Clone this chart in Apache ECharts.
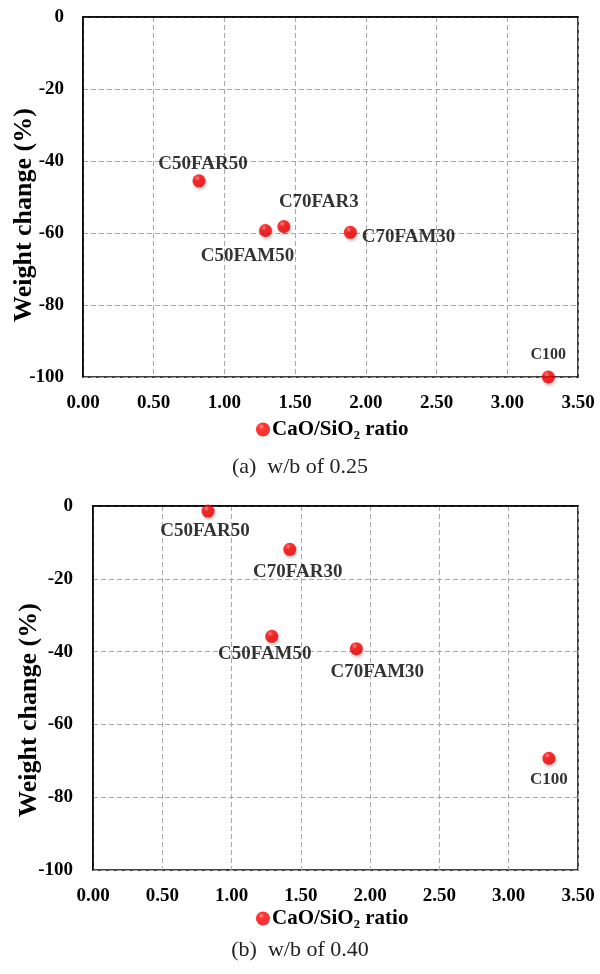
<!DOCTYPE html>
<html>
<head>
<meta charset="utf-8">
<script src="https://cdn.jsdelivr.net/npm/echarts@6/dist/echarts.min.js"></script>
<style>
html,body{margin:0;padding:0;background:#fff;}
#chart{width:600px;height:974px;}
</style>
</head>
<body>
<div id="chart"></div>
<script>
// ---- data ----
const namesA = ['C50FAR50', 'C50FAM50', 'C70FAR3', 'C70FAM30', 'C100'];
const ratioA = [0.82, 1.29, 1.42, 1.89, 3.29];
const weightA = [-45.5, -59.3, -58.2, -59.8, -100];

const namesB = ['C50FAR50', 'C70FAR30', 'C50FAM50', 'C70FAM30', 'C100'];
const ratioB = [0.83, 1.42, 1.29, 1.90, 3.29];
const weightB = [-1.4, -11.9, -35.8, -39.2, -69.3];

const xTicks = ['0.00', '0.50', '1.00', '1.50', '2.00', '2.50', '3.00', '3.50'];
const yTicks = ['-100', '-80', '-60', '-40', '-20', '0'];
const legendName = 'CaO/SiO\u2082 ratio';
const yName = 'Weight change (%)';
const captions = ['(a)  w/b of 0.25', '(b)  w/b of 0.40'];

// ---- styles ----
const FONT = '"Liberation Serif", "Times New Roman", serif';
const labelA = {
  'C50FAR50': {position: 'top', distance: 1, offset: [4, 0], fontSize: 19},
  'C50FAM50': {position: 'bottom', distance: 4, offset: [-18, 6], fontSize: 19},
  'C70FAR3':  {position: 'top', distance: 4, offset: [35, -4], fontSize: 19},
  'C70FAM30': {position: 'right', distance: 5, offset: [0, 5], fontSize: 19},
  'C100':     {position: 'top', distance: 4, offset: [0, -4], fontSize: 16}
};
const labelB = {
  'C50FAR50': {position: 'bottom', distance: 4, offset: [-3, 0], fontSize: 19},
  'C70FAR30': {position: 'bottom', distance: 4, offset: [8, 3], fontSize: 19},
  'C50FAM50': {position: 'bottom', distance: 4, offset: [-7, -2], fontSize: 19},
  'C70FAM30': {position: 'bottom', distance: 4, offset: [21, 3], fontSize: 19},
  'C100':     {position: 'bottom', distance: 4, offset: [0, 2], fontSize: 17}
};

const ballColor = {
  type: 'radial', x: 0.38, y: 0.3, r: 0.75,
  colorStops: [
    {offset: 0, color: '#ff7070'},
    {offset: 0.3, color: '#ff0000'},
    {offset: 0.85, color: '#f00000'},
    {offset: 1, color: '#c00000'}
  ]
};

function buildData(names, xs, ys, lab) {
  return names.map((n, i) => ({
    name: n,
    value: [xs[i], ys[i]],
    label: Object.assign({show: true, formatter: n, color: '#000', fontWeight: 'bold', fontFamily: FONT}, lab[n])
  }));
}

function xAxis(gi) {
  return {
    gridIndex: gi, type: 'value', min: 0, max: 3.5, interval: 0.5,
    axisLine: {show: true, lineStyle: {color: '#000', width: 1.5}},
    axisTick: {show: false},
    axisLabel: {
      margin: 17, color: '#000', fontWeight: 'bold', fontSize: 19, fontFamily: FONT,
      formatter: v => xTicks[Math.round(v / 0.5)]
    },
    splitLine: {show: true, lineStyle: {color: '#a8a8a8', type: [5, 3], width: 1}}
  };
}
function yAxis(gi, gap, margin, pad) {
  return {
    gridIndex: gi, type: 'value', min: -100, max: 0, interval: 20,
    name: yName, nameLocation: 'middle', nameGap: gap, nameRotate: 90, nameMoveOverlap: false,
    nameTextStyle: {color: '#000', fontWeight: 'bold', fontSize: 26, fontFamily: FONT, padding: [0, pad, 0, 0]},
    axisLine: {show: true, lineStyle: {color: '#000', width: 1.5}},
    axisTick: {show: false},
    axisLabel: {
      margin: margin, color: '#000', fontWeight: 'bold', fontSize: 19, fontFamily: FONT,
      formatter: v => yTicks[Math.round((v + 100) / 20)]
    },
    splitLine: {show: true, lineStyle: {color: '#a8a8a8', type: [5, 3], width: 1}}
  };
}

function series(gi, names, xs, ys, lab) {
  return {
    name: legendName, type: 'scatter', xAxisIndex: gi, yAxisIndex: gi,
    symbol: 'circle', symbolSize: 13, clip: false,
    itemStyle: {color: ballColor, shadowBlur: 3, shadowColor: 'rgba(0,0,0,0.35)', shadowOffsetX: 1, shadowOffsetY: 2},
    data: buildData(names, xs, ys, lab)
  };
}

function legend(top) {
  return {
    top: top, left: 251, data: [legendName], icon: 'circle', itemWidth: 14, itemHeight: 14, itemGap: 4,
    selectedMode: false,
    textStyle: {color: '#000', fontWeight: 'bold', fontSize: 21, fontFamily: FONT, padding: [0, 0, 0, -3]}
  };
}

const capStyle = {fontFamily: FONT, fontWeight: 'normal', fontSize: 22, color: '#222'};

const chart = echarts.init(document.getElementById('chart'), null, {renderer: 'canvas'});
chart.setOption({
  animation: false,
  backgroundColor: '#fff',
  title: [
    {text: captions[0], left: 'center', top: 451, textStyle: capStyle},
    {text: captions[1], left: 'center', top: 934, textStyle: capStyle}
  ],
  legend: [legend(414), legend(903)],
  grid: [
    {left: 83, top: 17, width: 495, height: 360, show: true, borderColor: '#000', borderWidth: 1.5, containLabel: false, outerBoundsMode: 'none'},
    {left: 93, top: 506, width: 485, height: 364, show: true, borderColor: '#000', borderWidth: 1.5, containLabel: false, outerBoundsMode: 'none'}
  ],
  xAxis: [xAxis(0), xAxis(1)],
  yAxis: [yAxis(0, 46, 19, 36), yAxis(1, 51, 20, 44)],
  series: [
    series(0, namesA, ratioA, weightA, labelA),
    series(1, namesB, ratioB, weightB, labelB)
  ]
});
</script>
</body>
</html>
